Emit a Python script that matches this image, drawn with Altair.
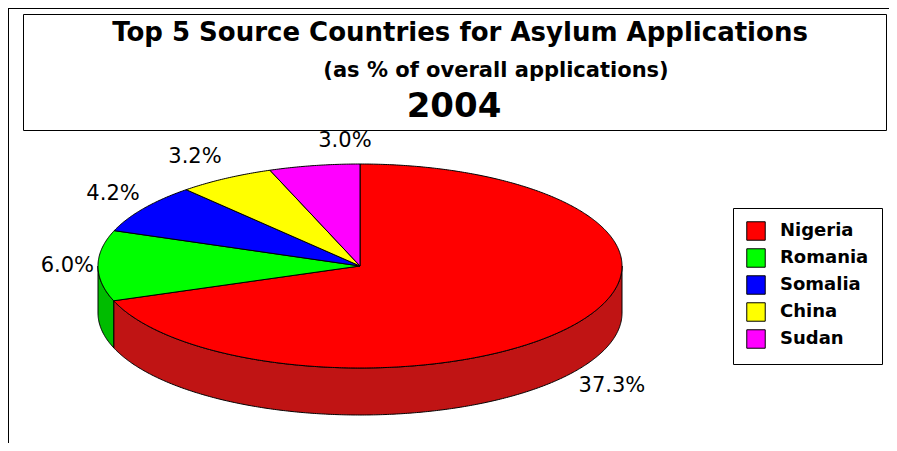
import altair as alt
import numpy as np
import pandas as pd

# ---------------- data ----------------
countries = ["Nigeria", "Romania", "Somalia", "China", "Sudan"]
shares = [37.3, 6.0, 4.2, 3.2, 3.0]
top_colors = ["#FF0000", "#00FF00", "#0000FF", "#FFFF00", "#FF00FF"]
side_colors = ["#C01414", "#00BC00", "#0000A8", "#BCBC00", "#BC00BC"]

title_1 = "Top 5 Source Countries for Asylum Applications"
title_2 = "(as % of overall applications)"
title_3 = "2004"

# ---------------- layout (page pixels) ----------------
W, H = 881, 435          # plot area; page origin offset is 8px
OFF = 8
CX, CY, RX, RY, DEPTH = 360, 266, 262, 102, 47
FONT = "DejaVu Sans"


def pt(a):
    r = np.radians(a)
    return CX + RX * np.cos(r), CY - RY * np.sin(r)


total = sum(shares)
top_rows, side_rows, label_rows = [], [], []
start = 90.0
for c, v in zip(countries, shares):
    span = 360.0 * v / total
    a0, a1 = start, start - span
    # top face
    angs = np.linspace(a0, a1, max(int(span * 2), 2) + 1)
    poly = [(CX, CY)] + [pt(a) for a in angs] + [(CX, CY)]
    for i, (x, y) in enumerate(poly):
        top_rows.append({"country": c, "x": x, "y": y, "i": i})
    # visible side (front half of the ellipse)
    lo, hi = max(a1, -180.0), min(a0, 0.0)
    if hi > lo:
        angs = np.linspace(hi, lo, max(int((hi - lo) * 2), 2) + 1)
        upper = [pt(a) for a in angs]
        lower = [(x, y + DEPTH) for (x, y) in upper[::-1]]
        poly = upper + lower + [upper[0]]
        for i, (x, y) in enumerate(poly):
            side_rows.append({"country": c, "x": x, "y": y, "i": i})
    # label
    m = np.radians((a0 + a1) / 2)
    cs, sn = np.cos(m), np.sin(m)
    lx = CX + RX * cs + (4 if cs >= -0.3 else -4)
    ly = CY - (RY + 25) * sn + (DEPTH if sn < 0 else 0)
    label_rows.append({"country": c, "x": lx, "y": ly, "text": f"{v:.1f}%",
                       "side": "right" if cs < -0.3 else "left"})
    start = a1

top_df = pd.DataFrame(top_rows)
side_df = pd.DataFrame(side_rows)
label_df = pd.DataFrame(label_rows)

xs = alt.Scale(domain=[OFF, OFF + W], nice=False, zero=False)
ys = alt.Scale(domain=[OFF, OFF + H], nice=False, zero=False, reverse=True)
X = alt.X("x:Q", scale=xs, axis=None)
Y = alt.Y("y:Q", scale=ys, axis=None)

# outer frame lines (top and left)
frame_top = alt.Chart(pd.DataFrame({"k": [0]})).mark_rule(color="black", strokeWidth=1).encode(
    x=alt.value(0), x2=alt.value(W), y=alt.value(0.5))
frame_left = alt.Chart(pd.DataFrame({"k": [0]})).mark_rule(color="black", strokeWidth=1).encode(
    x=alt.value(0.5), y=alt.value(0), y2=alt.value(H))

# title box
title_box = alt.Chart(pd.DataFrame({"k": [0]})).mark_rect(
    fill="white", stroke="black", strokeWidth=1).encode(
    x=alt.value(23 - OFF + 0.5), x2=alt.value(886 - OFF + 0.5),
    y=alt.value(14 - OFF + 0.5), y2=alt.value(130 - OFF + 0.5))

t1 = alt.Chart(pd.DataFrame({"t": [title_1]})).mark_text(
    font=FONT, fontWeight="bold", fontSize=26, baseline="alphabetic", align="center", color="black"
).encode(text="t:N", x=alt.value(460 - OFF), y=alt.value(41 - OFF))
t2 = alt.Chart(pd.DataFrame({"t": [title_2]})).mark_text(
    font=FONT, fontWeight="bold", fontSize=21, baseline="alphabetic", align="center", color="black"
).encode(text="t:N", x=alt.value(496 - OFF), y=alt.value(77 - OFF))
t3 = alt.Chart(pd.DataFrame({"t": [title_3]})).mark_text(
    font=FONT, fontWeight="bold", fontSize=34, baseline="alphabetic", align="center", color="black"
).encode(text="t:N", x=alt.value(454 - OFF), y=alt.value(117 - OFF))

sides = alt.Chart(side_df).mark_line(stroke="black", strokeWidth=1, strokeJoin="round").encode(
    x=X, y=Y, order="i:Q", detail="country:N",
    fill=alt.Fill("country:N", scale=alt.Scale(domain=countries, range=side_colors), legend=None),
)

tops = alt.Chart(top_df).mark_line(stroke="black", strokeWidth=1, strokeJoin="round").encode(
    x=X, y=Y, order="i:Q", detail="country:N",
    fill=alt.Fill("country:N", scale=alt.Scale(domain=countries, range=top_colors),
                  legend=alt.Legend(
                      title=None, orient="none", legendX=733 - OFF, legendY=208 - OFF,
                      symbolType="square", symbolSize=340, symbolStrokeColor="black",
                      symbolStrokeWidth=1, symbolOpacity=1,
                      labelFont=FONT, labelFontWeight="bold", labelFontSize=18,
                      labelColor="black", labelOffset=14, rowPadding=3,
                      strokeColor="black", fillColor="white", padding=13,
                  )),
)

lab_r = alt.Chart(label_df).transform_filter(alt.datum.side == "right").mark_text(
    font=FONT, fontSize=21, align="right", baseline="middle", color="black"
).encode(x=X, y=Y, text="text:N")
lab_l = alt.Chart(label_df).transform_filter(alt.datum.side == "left").mark_text(
    font=FONT, fontSize=21, align="left", baseline="middle", color="black"
).encode(x=X, y=Y, text="text:N")

chart = alt.layer(
    frame_top, frame_left, title_box, t1, t2, t3, sides, tops, lab_r, lab_l
).resolve_scale(fill="independent").properties(
    width=W, height=H, padding=0, autosize=alt.AutoSizeParams(type="none")
).configure_view(stroke=None)

chart.save("out.html", embed_options={"renderer": "svg", "actions": False})
